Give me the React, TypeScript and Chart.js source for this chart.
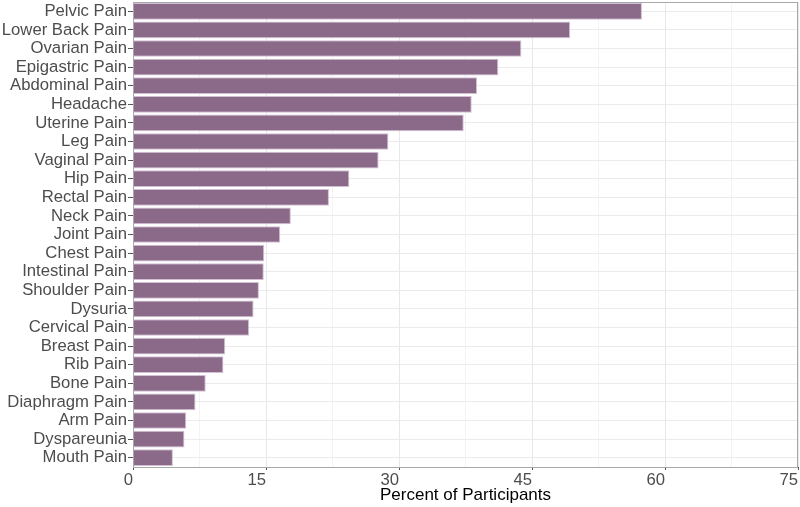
import React, { useEffect, useRef } from "react";
import { Chart, registerables } from "chart.js";

Chart.register(...registerables);

const categories = [
  "Pelvic Pain", "Lower Back Pain", "Ovarian Pain", "Epigastric Pain", "Abdominal Pain",
  "Headache", "Uterine Pain", "Leg Pain", "Vaginal Pain", "Hip Pain", "Rectal Pain",
  "Neck Pain", "Joint Pain", "Chest Pain", "Intestinal Pain", "Shoulder Pain", "Dysuria",
  "Cervical Pain", "Breast Pain", "Rib Pain", "Bone Pain", "Diaphragm Pain", "Arm Pain",
  "Dyspareunia", "Mouth Pain",
];
const percents = [
  57.4, 49.3, 43.8, 41.2, 38.8, 38.2, 37.3, 28.8, 27.7, 24.4, 22.1, 17.8, 16.6, 14.8,
  14.75, 14.2, 13.6, 13.1, 10.4, 10.2, 8.2, 7.05, 6.0, 5.8, 4.5,
];
const xMin = 0;
const xMax = 75;
const xMinorStep = 7.5;
const xMajorStep = 15;
const xTitle = "Percent of Participants";

const FONT = "'Liberation Sans', Arial, Helvetica, sans-serif";
const FS = 16.7;

const panelBorder = {
  id: "panelBorder",
  afterDatasetsDraw(chart: any) {
    const { ctx, chartArea } = chart;
    ctx.save();
    ctx.strokeStyle = "#a8a8a8";
    ctx.lineWidth = 1;
    ctx.strokeRect(
      Math.round(chartArea.left) + 0.5,
      Math.round(chartArea.top) + 0.5,
      Math.round(chartArea.right - chartArea.left) - 1,
      Math.round(chartArea.bottom - chartArea.top)
    );
    ctx.restore();
  },
};

export default function App() {
  const ref = useRef<HTMLCanvasElement>(null);
  useEffect(() => {
    if (!ref.current) return;
    const isMajor = (v: number) => Math.abs(v / xMajorStep - Math.round(v / xMajorStep)) < 1e-6;
    const chart = new Chart(ref.current, {
      type: "bar",
      data: {
        labels: categories,
        datasets: [
          {
            data: percents,
            backgroundColor: "#8B6A89",
            borderColor: "rgba(200,175,200,0.8)",
            borderWidth: 1,
            barPercentage: 0.9,
            categoryPercentage: 1,
          },
        ],
      },
      options: {
        indexAxis: "y",
        animation: false,
        responsive: true,
        maintainAspectRatio: false,
        layout: { padding: { top: 2, right: 2, left: 0, bottom: 0 } },
        plugins: { legend: { display: false }, tooltip: { enabled: false } },
        scales: {
          x: {
            type: "linear",
            min: xMin,
            max: xMax,
            afterFit: (s: any) => {
              s.height = 40;
              s.paddingLeft = 0;
              s.paddingRight = 0;
            },
            border: { display: false },
            grid: {
              color: (c: any) => (isMajor(c.tick.value) ? "#e8e8e8" : "#f3f3f3"),
              tickColor: (c: any) => (isMajor(c.tick.value) ? "#555" : "rgba(0,0,0,0)"),
              tickLength: 3,
              lineWidth: 1,
            },
            ticks: {
              stepSize: xMinorStep,
              autoSkip: false,
              maxRotation: 0,
              align: "end",
              color: "#4d4d4d",
              font: { family: FONT, size: FS },
              padding: 0,
              callback: (v: any) => (isMajor(Number(v)) ? String(v) : ""),
            },
            title: {
              display: true,
              text: xTitle,
              color: "#000",
              font: { family: FONT, size: 17 },
              padding: { top: 0, bottom: 1 },
            },
          },
          y: {
            type: "category",
            afterFit: (s: any) => {
              s.width = 133;
              s.paddingTop = 0;
              s.paddingBottom = 0;
            },
            border: { display: false },
            grid: {
              offset: false,
              color: "#ebebeb",
              tickColor: "#555",
              tickLength: 5,
            },
            ticks: {
              autoSkip: false,
              color: "#4d4d4d",
              font: { family: FONT, size: FS },
              padding: 1,
            },
          },
        },
      },
      plugins: [panelBorder],
    });
    return () => chart.destroy();
  }, []);
  return (
    <div style={{ position: "fixed", left: 0, top: 0, width: 800, height: 507, background: "#fff" }}>
      <canvas ref={ref} />
    </div>
  );
}
